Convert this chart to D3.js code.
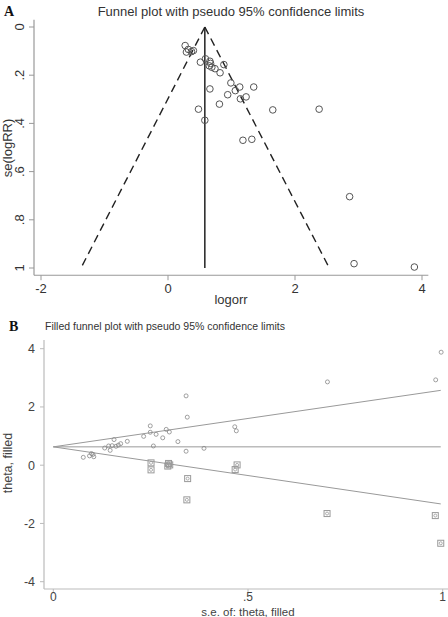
<!DOCTYPE html>
<html>
<head>
<meta charset="utf-8">
<title>Funnel plots</title>
<script src="https://d3js.org/d3.v7.min.js"></script>
<style>
  body { margin: 0; background: #fff; }
  svg { display: block; font-family: "Liberation Sans", Arial, sans-serif; }
</style>
</head>
<body>
<div id="chart"></div>
<script>
// study estimates (panel A x = logorr, y = se), also the observed points in panel B
var logorr = [0.27, 0.32, 0.29, 0.37, 0.40, 0.51, 0.59, 0.66, 0.67, 0.65, 0.69, 0.74, 0.88, 0.82,
              0.99, 1.13, 1.35, 1.06, 0.66, 0.94, 1.14, 1.23, 0.81, 0.48, 1.65, 2.38, 0.58, 1.18,
              1.32, 2.86, 2.93, 3.88];
var seLog = [0.077, 0.093, 0.104, 0.102, 0.098, 0.146, 0.132, 0.142, 0.151, 0.161, 0.167, 0.173,
             0.156, 0.190, 0.232, 0.249, 0.249, 0.264, 0.257, 0.281, 0.298, 0.290, 0.320, 0.341,
             0.344, 0.341, 0.387, 0.470, 0.466, 0.704, 0.982, 0.996];

// imputed (filled) studies in panel B
var filledSe    = [0.251, 0.251, 0.296, 0.294, 0.299, 0.345, 0.343, 0.467, 0.472, 0.703, 0.981, 0.995];
var filledTheta = [0.08, -0.16, 0.06, -0.03, 0.01, -0.46, -1.19, -0.15, 0.01, -1.66, -1.73, -2.68];

// pseudo 95% limits: [se, theta] at apex and at the bottom
var pooledA = 0.58;
var limitsA = [[0, 0.58], [1, -1.37], [1, 2.54]];
var pooledB = 0.63;
var limitsB = [[0, 0.63], [0.995, -1.33], [0.995, 2.57]];

// tick labels
var xTicksA = [-2, 0, 2, 4];
var yTicksA = [0, 0.2, 0.4, 0.6, 0.8, 1];
var xTicksB = [0, 0.5, 1];
var yTicksB = [-4, -2, 0, 2, 4];

function fmt(d) {
  return String(d).replace("0.", ".");
}

var svg = d3.select("#chart").append("svg")
  .attr("width", 448)
  .attr("height", 617);

// ---------------- Panel A ----------------
var xA = d3.scaleLinear().domain([-2, 4]).range([41, 422]);
var yA = d3.scaleLinear().domain([0, 1]).range([27, 268]);
var gA = svg.append("g");

gA.append("text").attr("x", 4).attr("y", 16)
  .attr("font-family", "Liberation Serif, Times New Roman, serif")
  .attr("font-weight", "bold").attr("font-size", 14).attr("fill", "#111")
  .text("A");

gA.append("text").attr("x", 231).attr("y", 16)
  .attr("text-anchor", "middle").attr("font-size", 13).attr("fill", "#333")
  .text("Funnel plot with pseudo 95% confidence limits");

// axes
gA.append("line")
  .attr("x1", 34).attr("x2", 34)
  .attr("y1", yA(-0.03)).attr("y2", yA(1.03))
  .attr("stroke", "#999").attr("stroke-width", 1.2);
gA.append("line")
  .attr("x1", 34).attr("x2", xA(4.1))
  .attr("y1", yA(1.03)).attr("y2", yA(1.03))
  .attr("stroke", "#999").attr("stroke-width", 1.2);

gA.selectAll("line.ytick").data(yTicksA).enter().append("line")
  .attr("class", "ytick")
  .attr("x1", 29).attr("x2", 34)
  .attr("y1", function(d) { return yA(d); })
  .attr("y2", function(d) { return yA(d); })
  .attr("stroke", "#999");
gA.selectAll("text.ytick").data(yTicksA).enter().append("text")
  .attr("class", "ytick")
  .attr("transform", function(d) { return "translate(24," + yA(d) + ")rotate(-90)"; })
  .attr("text-anchor", "middle").attr("font-size", 13).attr("fill", "#333")
  .text(fmt);

gA.selectAll("line.xtick").data(xTicksA).enter().append("line")
  .attr("class", "xtick")
  .attr("x1", function(d) { return xA(d); })
  .attr("x2", function(d) { return xA(d); })
  .attr("y1", yA(1.03)).attr("y2", yA(1.03) + 5)
  .attr("stroke", "#999");
gA.selectAll("text.xtick").data(xTicksA).enter().append("text")
  .attr("class", "xtick")
  .attr("x", function(d) { return xA(d); })
  .attr("y", 293)
  .attr("text-anchor", "middle").attr("font-size", 13).attr("fill", "#333")
  .text(function(d) { return d; });

gA.append("text").attr("x", 231).attr("y", 304)
  .attr("text-anchor", "middle").attr("font-size", 13).attr("fill", "#333")
  .text("logorr");
gA.append("text")
  .attr("transform", "translate(12,148)rotate(-90)")
  .attr("text-anchor", "middle").attr("font-size", 13).attr("fill", "#333")
  .text("se(logRR)");

// funnel
gA.append("line")
  .attr("x1", xA(pooledA)).attr("x2", xA(pooledA))
  .attr("y1", yA(0)).attr("y2", yA(1))
  .attr("stroke", "#222").attr("stroke-width", 1.5);
[limitsA[1], limitsA[2]].forEach(function(p) {
  gA.append("line")
    .attr("x1", xA(limitsA[0][1])).attr("y1", yA(limitsA[0][0]))
    .attr("x2", xA(p[1])).attr("y2", yA(p[0]))
    .attr("stroke", "#222").attr("stroke-width", 1.4)
    .attr("stroke-dasharray", "8,5");
});

gA.selectAll("circle.study").data(logorr).enter().append("circle")
  .attr("class", "study")
  .attr("cx", function(d) { return xA(d); })
  .attr("cy", function(d, i) { return yA(seLog[i]); })
  .attr("r", 3.3)
  .attr("fill", "none").attr("stroke", "#555").attr("stroke-width", 1);

// ---------------- Panel B ----------------
var xB = d3.scaleLinear().domain([0, 1]).range([53.3, 442.7]);
var yB = d3.scaleLinear().domain([-4, 4]).range([581.7, 348.7]);
var gB = svg.append("g");

gB.append("text").attr("x", 9).attr("y", 331)
  .attr("font-family", "Liberation Serif, Times New Roman, serif")
  .attr("font-weight", "bold").attr("font-size", 14).attr("fill", "#111")
  .text("B");
gB.append("text").attr("x", 45).attr("y", 330)
  .attr("font-size", 10.5).attr("fill", "#333")
  .text("Filled funnel plot with pseudo 95% confidence limits");

gB.append("line")
  .attr("x1", 44).attr("x2", 44)
  .attr("y1", yB(4.3)).attr("y2", yB(-4.25))
  .attr("stroke", "#bbb").attr("stroke-width", 1.2);
gB.append("line")
  .attr("x1", 44).attr("x2", 448)
  .attr("y1", yB(-4.25)).attr("y2", yB(-4.25))
  .attr("stroke", "#bbb").attr("stroke-width", 1.2);

gB.selectAll("line.ytick").data(yTicksB).enter().append("line")
  .attr("class", "ytick")
  .attr("x1", 40).attr("x2", 44)
  .attr("y1", function(d) { return yB(d); })
  .attr("y2", function(d) { return yB(d); })
  .attr("stroke", "#bbb");
gB.selectAll("text.ytick").data(yTicksB).enter().append("text")
  .attr("class", "ytick")
  .attr("x", 35).attr("y", function(d) { return yB(d) + 4.5; })
  .attr("text-anchor", "end").attr("font-size", 12.5).attr("fill", "#444")
  .text(function(d) { return d; });

gB.selectAll("line.xtick").data(xTicksB).enter().append("line")
  .attr("class", "xtick")
  .attr("x1", function(d) { return xB(d); })
  .attr("x2", function(d) { return xB(d); })
  .attr("y1", yB(-4.25)).attr("y2", yB(-4.25) + 4)
  .attr("stroke", "#bbb");
gB.selectAll("text.xtick").data(xTicksB).enter().append("text")
  .attr("class", "xtick")
  .attr("x", function(d) { return xB(d); })
  .attr("y", 601)
  .attr("text-anchor", "middle").attr("font-size", 12).attr("fill", "#444")
  .text(fmt);

gB.append("text").attr("x", 248).attr("y", 615.5)
  .attr("text-anchor", "middle").attr("font-size", 11.5).attr("fill", "#444")
  .text("s.e. of: theta, filled");
gB.append("text")
  .attr("transform", "translate(12,463)rotate(-90)")
  .attr("text-anchor", "middle").attr("font-size", 12.5).attr("fill", "#444")
  .text("theta, filled");

// funnel lines
gB.append("line")
  .attr("x1", xB(0)).attr("x2", xB(limitsB[1][0]))
  .attr("y1", yB(pooledB)).attr("y2", yB(pooledB))
  .attr("stroke", "#999").attr("stroke-width", 1);
[limitsB[1], limitsB[2]].forEach(function(p) {
  gB.append("line")
    .attr("x1", xB(limitsB[0][0])).attr("y1", yB(limitsB[0][1]))
    .attr("x2", xB(p[0])).attr("y2", yB(p[1]))
    .attr("stroke", "#999").attr("stroke-width", 1);
});

// observed studies
gB.selectAll("circle.obs").data(logorr).enter().append("circle")
  .attr("class", "obs")
  .attr("cx", function(d, i) { return xB(seLog[i]); })
  .attr("cy", function(d) { return yB(d); })
  .attr("r", 2)
  .attr("fill", "none").attr("stroke", "#888").attr("stroke-width", 0.8);

// filled studies: square with a small circle inside
var filled = gB.selectAll("g.fill").data(filledTheta).enter().append("g")
  .attr("class", "fill")
  .attr("transform", function(d, i) { return "translate(" + xB(filledSe[i]) + "," + yB(d) + ")"; });
filled.append("rect")
  .attr("x", -3).attr("y", -3).attr("width", 6).attr("height", 6)
  .attr("fill", "none").attr("stroke", "#999").attr("stroke-width", 1);
filled.append("circle")
  .attr("r", 1.5)
  .attr("fill", "none").attr("stroke", "#999").attr("stroke-width", 0.8);
</script>
</body>
</html>
